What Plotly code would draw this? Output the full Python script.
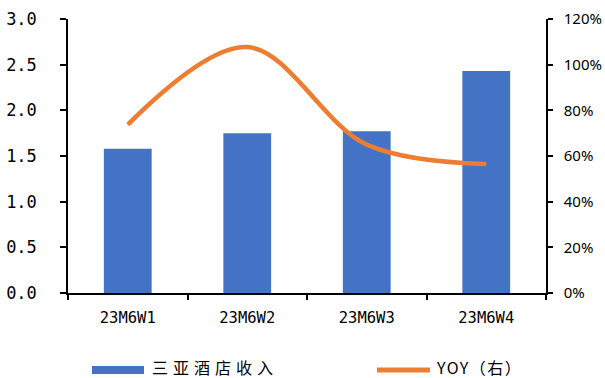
import plotly.graph_objects as go

# Weekly Sanya hotel revenue (left axis) and year-over-year growth (right axis)
weeks = ["23M6W1", "23M6W2", "23M6W3", "23M6W4"]
revenue = [1.58, 1.75, 1.77, 2.43]
yoy = [0.737, 1.077, 0.65, 0.565]

bar_name = "三亚酒店收入"
line_name = "YOY（右）"

BAR_COLOR = "#4472C4"
LINE_COLOR = "#ED7D31"

W, H = 605, 378
M_L, M_R, M_T, M_B = 68, 59, 19, 85
PW, PH = W - M_L - M_R, H - M_T - M_B


def px_x(px):
    return (px - M_L) / PW


def px_y(py):
    return (H - M_B - py) / PH


fig = go.Figure()
fig.add_trace(go.Bar(
    x=weeks, y=revenue, name=bar_name,
    marker=dict(color=BAR_COLOR, line=dict(width=0)),
    showlegend=False,
))
fig.add_trace(go.Scatter(
    x=weeks, y=yoy, name=line_name, yaxis="y2", mode="lines",
    line=dict(color=LINE_COLOR, width=4.5, shape="spline", smoothing=1.0),
    showlegend=False,
))

axis_font = dict(family="DejaVu Sans Mono", size=17, color="#000000")
cat_font = dict(family="DejaVu Sans Mono", size=15.5, color="#000000")
right_font = dict(family="Noto Sans", size=15, color="#000000")

fig.update_layout(
    width=W, height=H,
    margin=dict(l=M_L, r=M_R, t=M_T, b=M_B, pad=0, autoexpand=False),
    paper_bgcolor="white", plot_bgcolor="white",
    bargap=0.6,
    xaxis=dict(
        type="category", tickson="boundaries", ticks="outside", ticklen=5,
        tickwidth=1.5, tickcolor="#000000", automargin=False,
        showline=True, linecolor="#000000", linewidth=1.5,
        showgrid=False, tickfont=cat_font, ticklabelstandoff=10,
    ),
    yaxis=dict(
        range=[0, 3], dtick=0.5, tickformat=".1f", automargin=False,
        ticks="outside", ticklen=6, tickwidth=1.5, tickcolor="#000000",
        showline=True, linecolor="#000000", linewidth=1.5,
        showgrid=False, zeroline=False, tickfont=axis_font,
        ticklabelstandoff=20,
    ),
    yaxis2=dict(
        range=[0, 1.2], dtick=0.2, tickformat=".0%", overlaying="y", side="right",
        ticks="outside", ticklen=5, tickwidth=1.5, tickcolor="#000000",
        showline=True, linecolor="#000000", linewidth=1.5, automargin=False,
        showgrid=False, zeroline=False, tickfont=right_font,
        ticklabelstandoff=8,
    ),
    showlegend=False,
)

# Legend drawn below the plot: swatches plus labels
legend_y = px_y(370)
fig.add_shape(type="rect", xref="paper", yref="paper",
              x0=px_x(92), x1=px_x(144), y0=px_y(366), y1=px_y(374),
              fillcolor=BAR_COLOR, line=dict(width=0), layer="above")
fig.add_shape(type="line", xref="paper", yref="paper",
              x0=px_x(377), x1=px_x(430), y0=legend_y, y1=legend_y,
              line=dict(color=LINE_COLOR, width=5), layer="above")
legend_font = dict(family="Noto Sans CJK SC", size=16, color="#000000")
text_y = px_y(367)
fig.add_annotation(x=px_x(150), y=text_y, xref="paper", yref="paper",
                   text=bar_name, showarrow=False, xanchor="left", yanchor="middle",
                   align="left", width=132, font=legend_font)
fig.add_annotation(x=px_x(434), y=text_y, xref="paper", yref="paper",
                   text=line_name, showarrow=False, xanchor="left", yanchor="middle",
                   align="left", width=92, font=legend_font)

# Wider letter spacing for the legend labels
post = """
var gd = document.getElementById('{plot_id}');
gd.querySelectorAll('.annotation-text').forEach(function(t) {
  if (t.textContent.indexOf('三亚') >= 0) { t.style.letterSpacing = '5px'; }
  else { t.style.letterSpacing = '1.5px'; }
});
"""

fig.write_html("out.html", post_script=post)
